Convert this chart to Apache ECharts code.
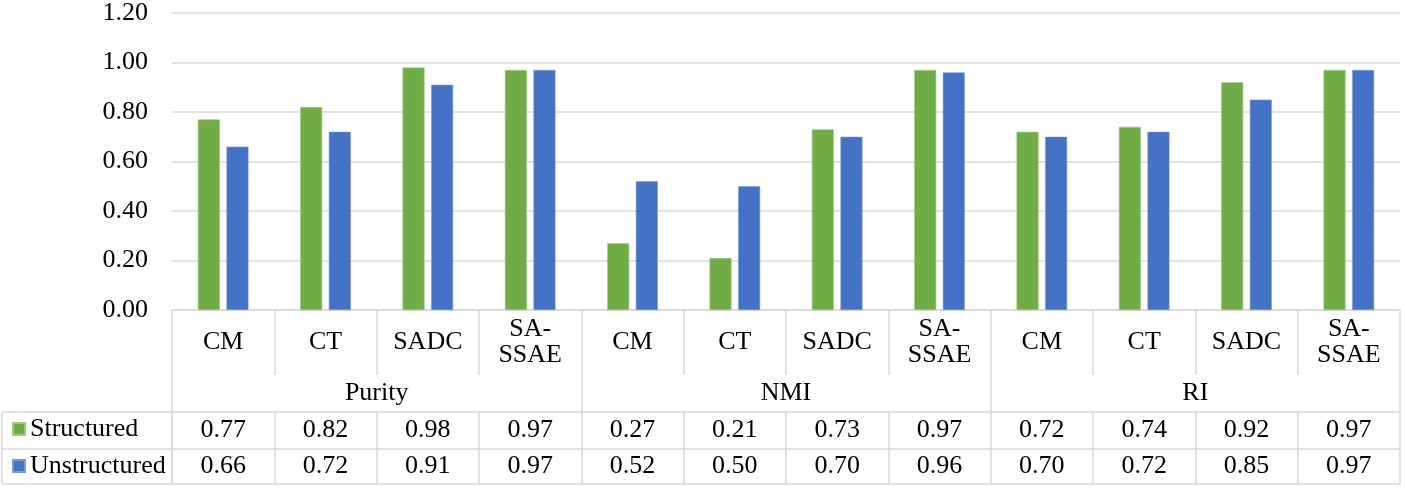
<!DOCTYPE html>
<html>
<head>
<meta charset="utf-8">
<script src="https://cdn.jsdelivr.net/npm/echarts@6/dist/echarts.min.js"></script>
<style>
  html, body { margin: 0; padding: 0; background: #fff; }
  #chart { width: 1405px; height: 490px; }
</style>
</head>
<body>
<div id="chart"></div>
<script>
const groups = ['Purity', 'NMI', 'RI'];
const methods = ['CM', 'CT', 'SADC', 'SA-\nSSAE'];
const categories = [].concat(methods, methods, methods);
const seriesNames = ['Structured', 'Unstructured'];
const structured = [0.77, 0.82, 0.98, 0.97, 0.27, 0.21, 0.73, 0.97, 0.72, 0.74, 0.92, 0.97];
const unstructured = [0.66, 0.72, 0.91, 0.97, 0.52, 0.50, 0.70, 0.96, 0.70, 0.72, 0.85, 0.97];
const yMin = 0, yMax = 1.2, yStep = 0.2;

const FONT = '"Liberation Serif", "Times New Roman", serif';
const FS = 26;
const LINE = '#D9D9D9';
const TXT = '#000';
const GREEN = '#70AD47';
const BLUE = '#4472C4';

const chart = echarts.init(document.getElementById('chart'));

const baseLabel = { fontFamily: FONT, fontSize: FS, color: TXT, interval: 0, verticalAlign: 'middle' };

function tableAxis(offset, tickLen, labelMargin, formatter, showLine) {
  return {
    type: 'category', gridIndex: 0, position: 'bottom', offset: offset,
    data: categories,
    axisLine: { show: showLine, lineStyle: { color: LINE, width: 1.5 } },
    axisTick: { show: tickLen > 0, interval: 0, length: tickLen, lineStyle: { color: LINE, width: 1.5 } },
    axisLabel: Object.assign({}, baseLabel, { show: !!formatter, margin: labelMargin, formatter: formatter }),
    splitLine: { show: false }
  };
}

const option = {
  backgroundColor: '#fff',
  animation: false,
  grid: { left: 172, right: 5, top: 11, bottom: 180, containLabel: false },
  legend: {
    orient: 'vertical', left: 12, top: 416, padding: 0,
    itemWidth: 12, itemHeight: 12, itemGap: 11,
    icon: 'rect',
    textStyle: { fontFamily: FONT, fontSize: FS, color: TXT, lineHeight: 26 },
    data: seriesNames
  },
  xAxis: [
    {
      type: 'category', gridIndex: 0, position: 'bottom', data: categories,
      axisLine: { show: true, lineStyle: { color: LINE, width: 1.5 } },
      axisTick: { show: true, interval: 0, length: 65, lineStyle: { color: LINE, width: 1.5 } },
      axisLabel: Object.assign({}, baseLabel, { margin: 32, lineHeight: 26 })
    },
    {
      type: 'category', gridIndex: 0, position: 'bottom', offset: 65, data: groups,
      axisLine: { show: false },
      axisTick: { show: true, interval: 0, length: 37, lineStyle: { color: LINE, width: 1.5 } },
      axisLabel: Object.assign({}, baseLabel, { margin: 18 })
    },
    tableAxis(102, 37, 18.5, (v, i) => structured[i].toFixed(2), true),
    tableAxis(139, 35, 17.5, (v, i) => unstructured[i].toFixed(2), true),
    tableAxis(174, 0, 0, null, true)
  ],
  yAxis: {
    type: 'value', min: yMin, max: yMax, interval: yStep,
    axisLine: { show: false }, axisTick: { show: false },
    axisLabel: { fontFamily: FONT, fontSize: FS, color: TXT, margin: 24, formatter: v => v.toFixed(2) },
    splitLine: { lineStyle: { color: LINE, width: 1.5 } }
  },
  series: [
    {
      name: seriesNames[0], type: 'bar', xAxisIndex: 0, data: structured,
      barWidth: 22, barGap: '30%',
      itemStyle: { color: GREEN, borderColor: '#9CCB7E', borderWidth: 0.6 }
    },
    {
      name: seriesNames[1], type: 'bar', xAxisIndex: 0, data: unstructured,
      barWidth: 22, barGap: '30%',
      itemStyle: { color: BLUE, borderColor: '#7C9BD6', borderWidth: 0.6 }
    }
  ],
  graphic: [
    { type: 'line', shape: { x1: 2, y1: 412, x2: 172, y2: 412 }, style: { stroke: LINE, lineWidth: 1.5 } },
    { type: 'line', shape: { x1: 2, y1: 449, x2: 172, y2: 449 }, style: { stroke: LINE, lineWidth: 1.5 } },
    { type: 'line', shape: { x1: 2, y1: 484, x2: 172, y2: 484 }, style: { stroke: LINE, lineWidth: 1.5 } },
    { type: 'line', shape: { x1: 2, y1: 412, x2: 2, y2: 484 }, style: { stroke: LINE, lineWidth: 1.5 } },
    { type: 'line', shape: { x1: 172, y1: 412, x2: 172, y2: 484 }, style: { stroke: LINE, lineWidth: 1.5 } }
  ]
};

chart.setOption(option);
</script>
</body>
</html>
